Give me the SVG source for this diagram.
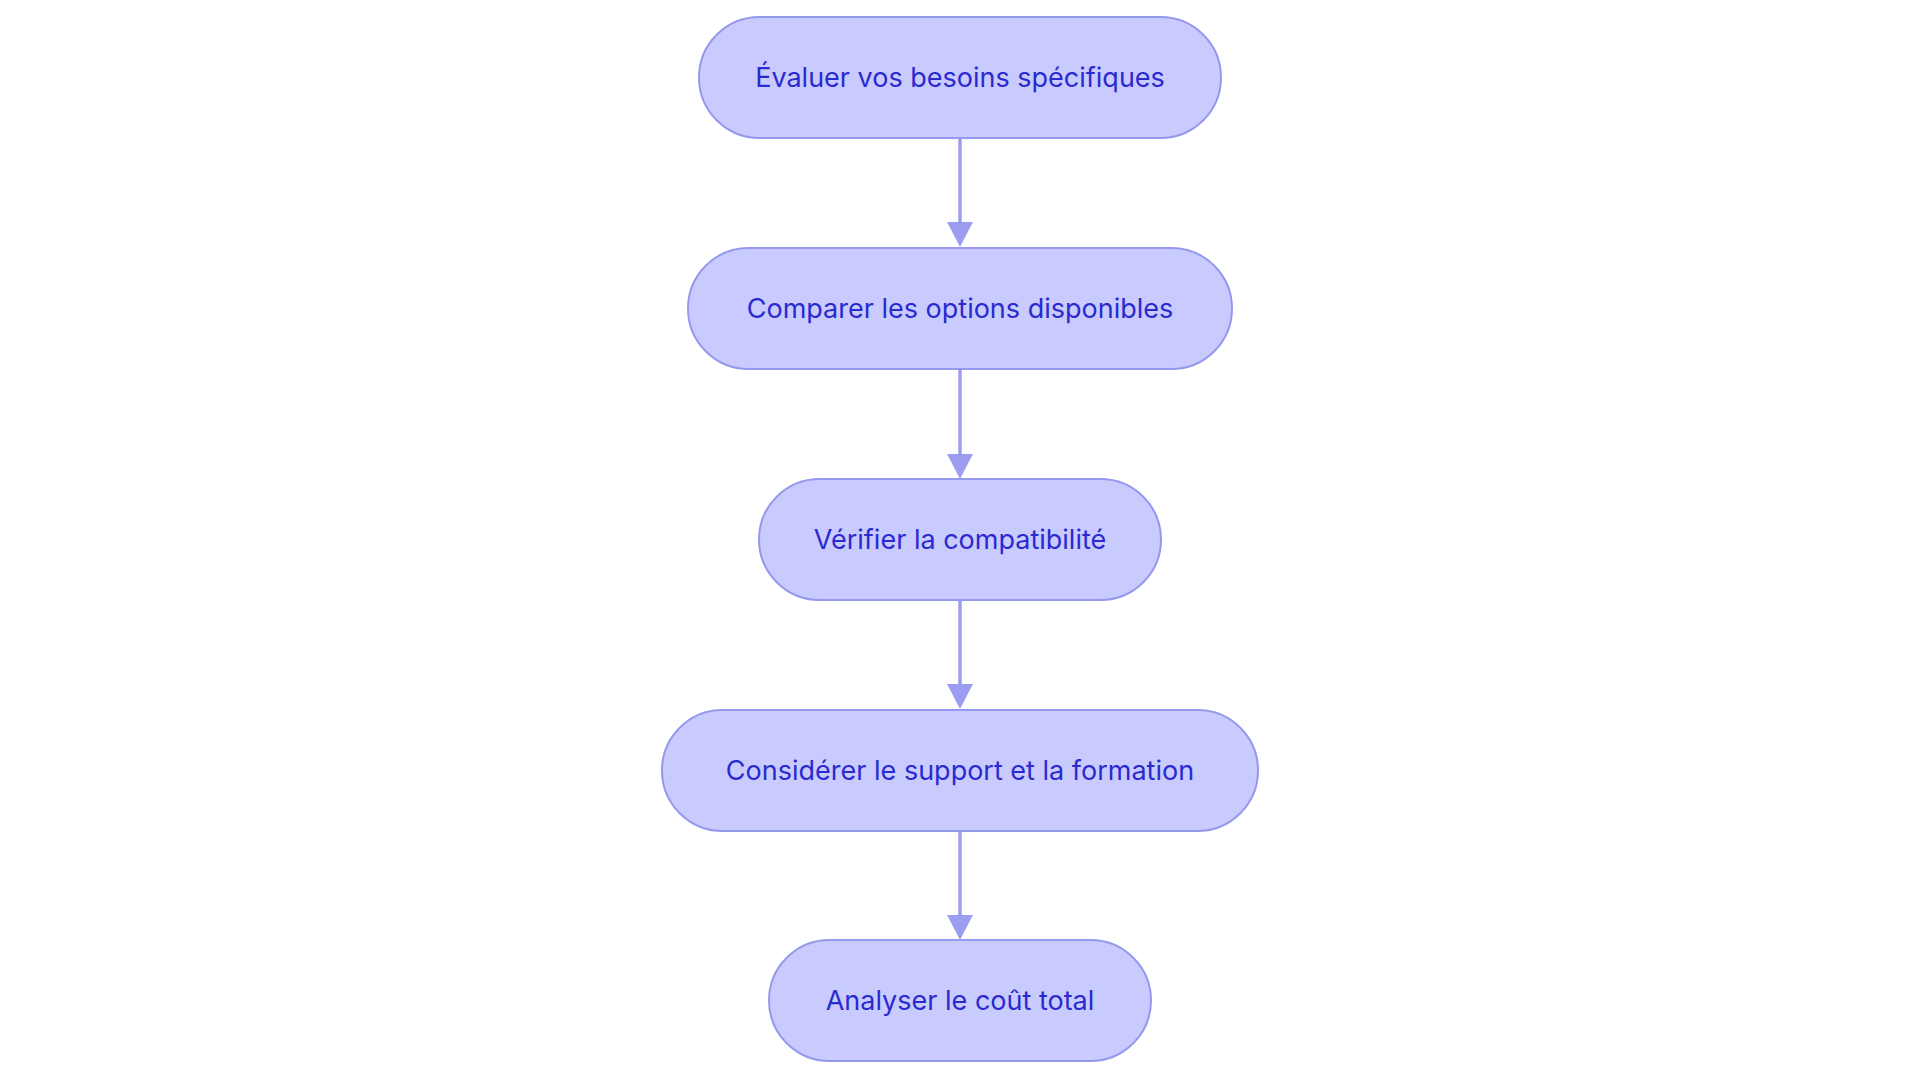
<svg xmlns="http://www.w3.org/2000/svg" width="1920" height="1083" viewBox="0 0 1920 1083">
<style>
.n{fill:#c9cafd;stroke:#9599ee;stroke-width:2}
.t{font-family:Inter,"Noto Sans",sans-serif;font-size:27px;fill:#2a2ad0;text-anchor:middle;dominant-baseline:central}
.e{stroke:#9b9ef0;stroke-width:3.5;fill:none}
</style>
<defs><marker id="a" markerWidth="26" markerHeight="26" refX="13" refY="24" orient="auto-start-reverse" markerUnits="userSpaceOnUse" viewBox="0 0 26 26"><path d="M0,0L26,0L13,26Z" fill="#9b9ef0" transform="rotate(0)"/></marker></defs>
<rect width="1920" height="1083" fill="#fff"/>
<g id="edges">
<path class="e" d="M960,138V222"/><path d="M947,222h26l-13,25z" fill="#9b9ef0"/>
<path class="e" d="M960,370V454"/><path d="M947,454h26l-13,25z" fill="#9b9ef0"/>
<path class="e" d="M960,600V684"/><path d="M947,684h26l-13,25z" fill="#9b9ef0"/>
<path class="e" d="M960,831V915"/><path d="M947,915h26l-13,25z" fill="#9b9ef0"/>
</g>
<g id="n1"><rect class="n" x="699" y="17" width="522" height="121" rx="60.5"/><text class="t" x="960" y="77">Évaluer vos besoins spécifiques</text></g>
<g id="n2"><rect class="n" x="688" y="248" width="544" height="121" rx="60.5"/><text class="t" x="960" y="308">Comparer les options disponibles</text></g>
<g id="n3"><rect class="n" x="759" y="479" width="402" height="121" rx="60.5"/><text class="t" x="960" y="539">Vérifier la compatibilité</text></g>
<g id="n4"><rect class="n" x="662" y="710" width="596" height="121" rx="60.5"/><text class="t" x="960" y="770">Considérer le support et la formation</text></g>
<g id="n5"><rect class="n" x="769" y="940" width="382" height="121" rx="60.5"/><text class="t" x="960" y="1000">Analyser le coût total</text></g>
</svg>
